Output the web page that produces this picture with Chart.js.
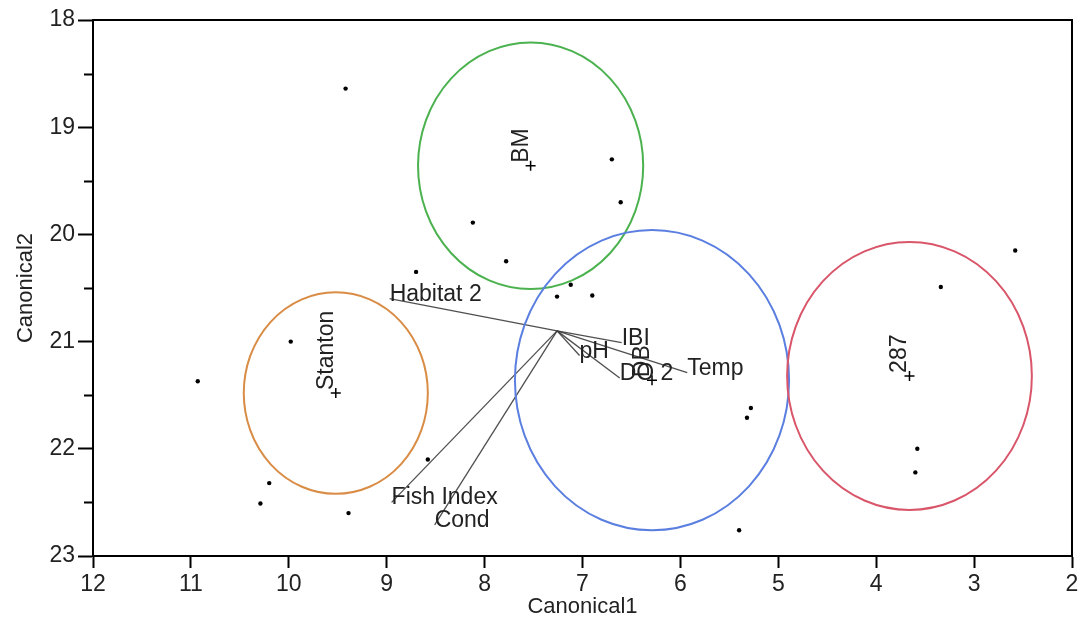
<!DOCTYPE html>
<html>
<head>
<meta charset="utf-8">
<script src="https://cdn.jsdelivr.net/npm/chart.js@4"></script>
<style>
html, body { margin: 0; padding: 0; background: #fff; }
</style>
</head>
<body>
<canvas id="canonChart" width="1084" height="636"></canvas>
<script>
// Observaciones (puntos)
const obsX = [9.42, 6.70, 6.61, 8.12, 7.78, 8.70, 7.12, 7.26, 6.90, 9.98, 10.93, 8.58, 10.20, 10.29, 9.39, 5.28, 5.32, 5.40, 3.58, 3.60, 2.58, 3.34];
const obsY = [18.64, 19.30, 19.70, 19.89, 20.25, 20.35, 20.47, 20.58, 20.57, 21.00, 21.37, 22.10, 22.32, 22.51, 22.60, 21.62, 21.71, 22.76, 22.00, 22.22, 20.15, 20.49];

// Medias de grupo y circulos de confianza
const groupNames = ['BM', 'Stanton', 'DB', '287'];
const groupX = [7.53, 9.52, 6.29, 3.66];
const groupY = [19.36, 21.48, 21.36, 21.32];
const groupRadius = [1.15, 0.94, 1.40, 1.25];
const groupColors = ['#4bb24f', '#d98c45', '#5b7fe0', '#d9566a'];

// Vectores del biplot
const rayOrigin = [7.26, 20.90];
const rayNames = ['Habitat 2', 'IBI', 'pH', 'DO 2', 'Temp', 'Fish Index', 'Cond'];
const rayX = [8.97, 6.60, 7.03, 6.62, 5.93, 8.95, 8.51];
const rayY = [20.60, 21.01, 21.13, 21.34, 21.29, 22.50, 22.71];

const minorYTicks = [18.5, 19.5, 20.5, 21.5, 22.5];

const textColor = '#222';
const fontFamily = '"Liberation Sans", Arial, sans-serif';

const overlayPlugin = {
    id: 'overlay',
    afterDatasetsDraw(chart) {
        const { ctx, chartArea: area, scales: { x, y } } = chart;
        ctx.save();

        // circulos de grupo + etiquetas giradas
        groupX.forEach((gx, i) => {
            const cx = x.getPixelForValue(gx);
            const cy = y.getPixelForValue(groupY[i]);
            const rx = Math.abs(x.getPixelForValue(gx + groupRadius[i]) - cx);
            const ry = Math.abs(y.getPixelForValue(groupY[i] + groupRadius[i]) - cy);
            ctx.beginPath();
            ctx.ellipse(cx, cy, rx, ry, 0, 0, Math.PI * 2);
            ctx.strokeStyle = groupColors[i];
            ctx.lineWidth = 2;
            ctx.stroke();

            ctx.save();
            ctx.translate(cx - 3, cy - 3);
            ctx.rotate(-Math.PI / 2);
            ctx.fillStyle = textColor;
            ctx.font = '23px ' + fontFamily;
            ctx.textAlign = 'left';
            ctx.textBaseline = 'alphabetic';
            ctx.fillText(groupNames[i], 0, 0);
            ctx.restore();
        });

        // etiquetas de los vectores
        ctx.fillStyle = textColor;
        ctx.font = '23px ' + fontFamily;
        ctx.textAlign = 'left';
        ctx.textBaseline = 'alphabetic';
        rayNames.forEach((name, i) => {
            ctx.fillText(name, x.getPixelForValue(rayX[i]), y.getPixelForValue(rayY[i]) + 2);
        });

        // marco
        ctx.strokeStyle = '#000';
        ctx.lineWidth = 2;
        ctx.strokeRect(area.left, area.top, area.width, area.height);

        // ticks menores eje Y
        ctx.beginPath();
        minorYTicks.forEach(v => {
            const py = Math.round(y.getPixelForValue(v)) + 0.5;
            ctx.moveTo(area.left - 9, py);
            ctx.lineTo(area.left, py);
        });
        ctx.lineWidth = 2;
        ctx.stroke();

        ctx.restore();
    }
};

const rayDatasets = rayNames.map((name, i) => ({
    label: name,
    data: [{ x: rayOrigin[0], y: rayOrigin[1] }, { x: rayX[i], y: rayY[i] }],
    showLine: true,
    borderColor: 'rgba(60,60,60,0.9)',
    borderWidth: 1.3,
    pointRadius: 0
}));

new Chart(document.getElementById('canonChart').getContext('2d'), {
    type: 'scatter',
    data: {
        datasets: [
            {
                label: 'Observaciones',
                data: obsX.map((v, i) => ({ x: v, y: obsY[i] })),
                pointRadius: 2.2,
                backgroundColor: '#000',
                borderColor: '#000',
                borderWidth: 0
            },
            {
                label: 'Medias',
                data: groupX.map((v, i) => ({ x: v, y: groupY[i] })),
                pointStyle: 'cross',
                pointRadius: 5,
                borderColor: '#000',
                borderWidth: 1.5
            },
            ...rayDatasets
        ]
    },
    options: {
        responsive: false,
        animation: false,
        devicePixelRatio: 1,
        layout: { padding: { top: 20, right: 12, left: 0, bottom: 0 } },
        plugins: {
            legend: { display: false },
            tooltip: { enabled: false }
        },
        scales: {
            x: {
                type: 'linear',
                reverse: true,
                min: 2,
                max: 12,
                afterFit: (scale) => { scale.height = 80; },
                ticks: {
                    stepSize: 1,
                    color: textColor,
                    font: { family: fontFamily, size: 23 },
                    padding: 3,
                    maxRotation: 0
                },
                grid: {
                    drawOnChartArea: false,
                    tickLength: 12,
                    tickColor: '#000',
                    tickWidth: 2
                },
                border: { color: '#000', width: 2 },
                title: {
                    display: true,
                    text: 'Canonical1',
                    color: textColor,
                    font: { family: fontFamily, size: 22 },
                    padding: { top: 0, bottom: 16 }
                }
            },
            y: {
                type: 'linear',
                reverse: true,
                min: 18,
                max: 23,
                afterFit: (scale) => { scale.width = 93; },
                ticks: {
                    stepSize: 1,
                    color: textColor,
                    font: { family: fontFamily, size: 23 },
                    padding: 3
                },
                grid: {
                    drawOnChartArea: false,
                    tickLength: 15,
                    tickColor: '#000',
                    tickWidth: 2
                },
                border: { color: '#000', width: 2 },
                title: {
                    display: true,
                    text: 'Canonical2',
                    color: textColor,
                    font: { family: fontFamily, size: 22 },
                    padding: { top: 13, bottom: 0 }
                }
            }
        }
    },
    plugins: [overlayPlugin]
});
</script>
</body>
</html>
